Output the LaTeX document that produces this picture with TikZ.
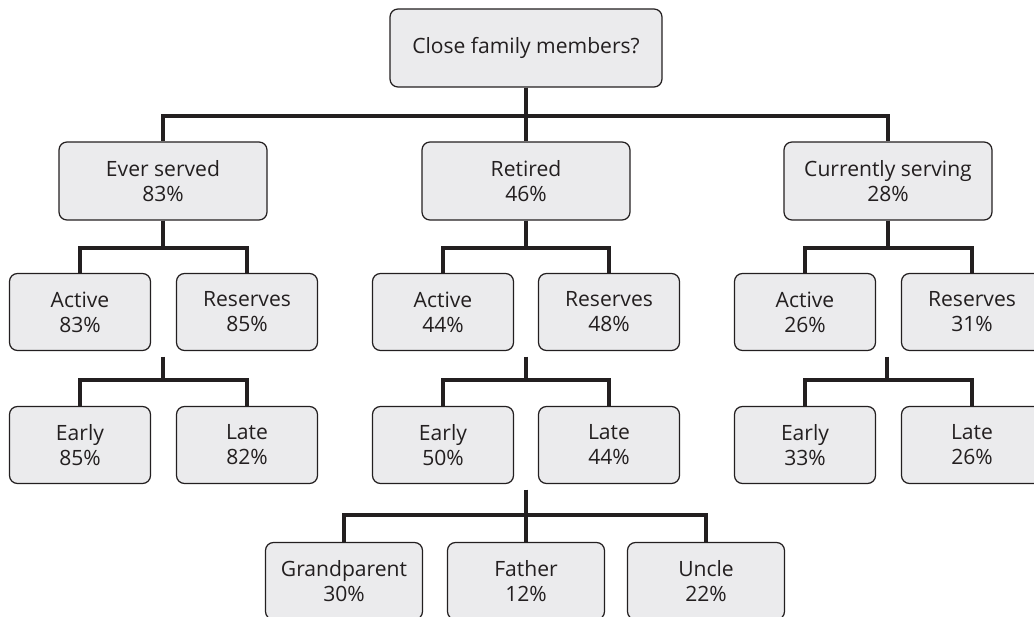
\documentclass[tikz,border=0pt]{standalone}
\usepackage{fontspec}
\setmainfont{Open Sans}
\usetikzlibrary{positioning, calc}
\definecolor{boxFill}{RGB}{235, 235, 237}
\definecolor{inkDark}{RGB}{35, 31, 32}

\begin{document}
\begin{tikzpicture}[x=0.02cm, y=-0.02cm,
    % --- 스타일 정의 ---
    % 1. 상자 스타일
    box/.style={draw=inkDark, line width=0.7pt, fill=boxFill, rounded corners=4.5pt, align=center, text=inkDark, inner sep=2pt, font=\fontsize{12}{14.2}\selectfont},
    rootbox/.style={box, minimum width=5.44cm, minimum height=1.56cm},
    topbox/.style={box, minimum width=4.16cm, minimum height=1.56cm},
    subbox/.style={box, minimum width=2.82cm, minimum height=1.54cm},
    kinbox/.style={box, minimum width=3.14cm, minimum height=1.54cm},
    % 2. 연결선 스타일
    link/.style={draw=inkDark, line width=2.2pt}
]
\useasboundingbox (0,0) rectangle (1034,617);

% === 1단계: 상자 배치 ===
\node[rootbox] (root) at (526, 48) {Close family members?};

\node[topbox] (ever) at (163, 181) {Ever served\\83\%};
\node[topbox] (ret)  at (526, 181) {Retired\\46\%};
\node[topbox] (cur)  at (888, 181) {Currently serving\\28\%};

\node[subbox] (act1) at (80, 312)  {Active\\83\%};
\node[subbox] (res1) at (247, 312) {Reserves\\85\%};
\node[subbox] (act2) at (443, 312) {Active\\44\%};
\node[subbox] (res2) at (609, 312) {Reserves\\48\%};
\node[subbox] (act3) at (805, 312) {Active\\26\%};
\node[subbox] (res3) at (972, 312) {Reserves\\31\%};

\node[subbox] (ear1) at (80, 445)  {Early\\85\%};
\node[subbox] (lat1) at (247, 445) {Late\\82\%};
\node[subbox] (ear2) at (443, 445) {Early\\50\%};
\node[subbox] (lat2) at (609, 445) {Late\\44\%};
\node[subbox] (ear3) at (805, 445) {Early\\33\%};
\node[subbox] (lat3) at (972, 445) {Late\\26\%};

\node[kinbox] (gp)  at (344, 581) {Grandparent\\30\%};
\node[kinbox] (fa)  at (526, 581) {Father\\12\%};
\node[kinbox] (unc) at (706, 581) {Uncle\\22\%};

% 상자 사이에서 내려오는 선의 시작점
\coordinate (d1) at (163, 357);
\coordinate (d2) at (526, 357);
\coordinate (d3) at (887, 357);
\coordinate (d4) at (526, 490);

% === 2단계: 연결선 ===
\draw[link] (root.south) -- ++(0,28) -| (ever.north);
\draw[link] (root.south) -- ++(0,28) -| (cur.north);
\draw[link] (root.south) -- (ret.north);

\draw[link] (ever.south) -- ++(0,27) -| (act1.north);
\draw[link] (ever.south) -- ++(0,27) -| (res1.north);
\draw[link] (ret.south) -- ++(0,27) -| (act2.north);
\draw[link] (ret.south) -- ++(0,27) -| (res2.north);
\draw[link] (cur.south) -- ++(0,27) -| (act3.north);
\draw[link] (cur.south) -- ++(0,27) -| (res3.north);

\draw[link] (d1) -- ++(0,23) -| (ear1.north);
\draw[link] (d1) -- ++(0,23) -| (lat1.north);
\draw[link] (d2) -- ++(0,23) -| (ear2.north);
\draw[link] (d2) -- ++(0,23) -| (lat2.north);
\draw[link] (d3) -- ++(0,23) -| (ear3.north);
\draw[link] (d3) -- ++(0,23) -| (lat3.north);

\draw[link] (d4) -- ++(0,25) -| (gp.north);
\draw[link] (d4) -- ++(0,25) -| (unc.north);
\draw[link] (d4) -- (fa.north);

\end{tikzpicture}
\end{document}
